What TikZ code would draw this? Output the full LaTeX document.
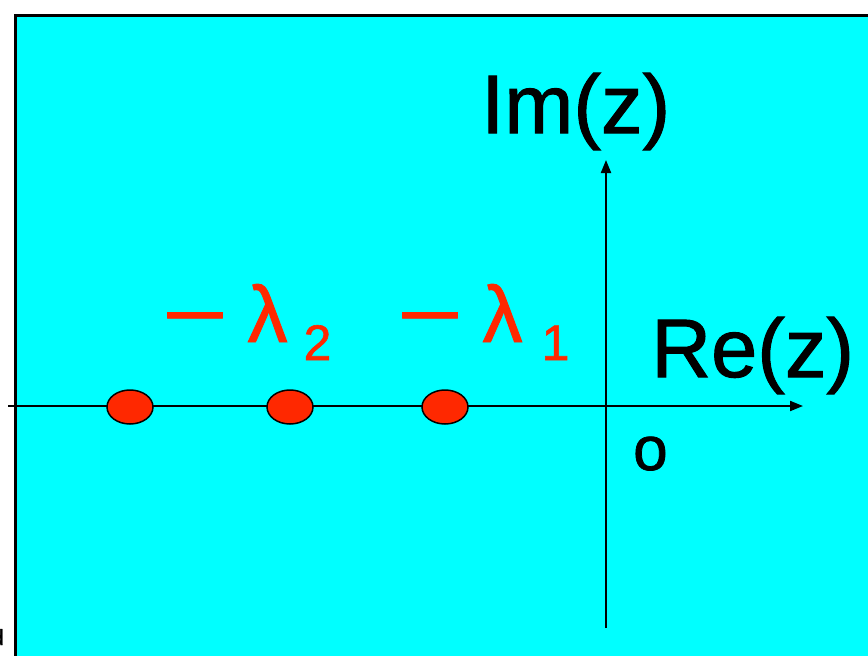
\documentclass[tikz,border=0pt]{standalone}
\usepackage{fontspec}
\setmainfont{Liberation Sans}[FakeBold=1.2]
\usetikzlibrary{positioning,arrows.meta,shapes.geometric}
\definecolor{planebg}{RGB}{0,255,255}
\definecolor{polered}{RGB}{255,40,0}

\begin{document}
\begin{tikzpicture}[x=1pt,y=-1pt,
    pole/.style={ellipse,draw=black,line width=1.5pt,fill=polered,minimum width=46pt,minimum height=34pt,inner sep=0pt},
    axis/.style={line width=2pt,-{Triangle[length=13pt,width=10pt]}},
    big/.style={font=\fontsize{83}{83}\selectfont,inner sep=0pt,anchor=base west},
    lam/.style={font=\fontsize{80}{80}\selectfont,text=polered,inner sep=0pt,anchor=base west}]
  \useasboundingbox (0,0) rectangle (868,656);
  \clip (0,0) rectangle (868,656);
  % complex plane
  \draw[line width=3pt,fill=planebg] (15,15) rectangle (890,680);
  \node[font=\fontsize{22}{22}\selectfont,inner sep=0pt,anchor=base east] (frag) at (4,645) {d};
  \coordinate (xl) at (8,406);\coordinate (xr) at (803,406);
  \coordinate (yb) at (606,628);\coordinate (yt) at (606,160);
  \draw[axis] (xl) -- (xr);
  \draw[axis] (yb) -- (yt);
  % poles on the real axis
  \foreach \x/\n in {130/p3,290/p2,445/p1}{\node[pole] (\n) at (\x,407) {};}
  \node[big] (im) at (481,133) {Im(z)};
  \node[big] (re) at (651,377) {Re(z)};
  \node[font=\fontsize{62}{62}\selectfont,inner sep=0pt,anchor=base west] (o) at (633,470) {o};
  \node[lam] (l2) at (162,342) {\scalebox{1.4}[1]{−}\hspace{20pt}λ\hspace{16pt}\raisebox{-18pt}{\fontsize{50}{50}\selectfont 2}};
  \node[lam] (l1) at (397,342) {\scalebox{1.4}[1]{−}\hspace{20pt}λ\hspace{19pt}\raisebox{-18pt}{\fontsize{50}{50}\selectfont 1}};
\end{tikzpicture}
\end{document}
